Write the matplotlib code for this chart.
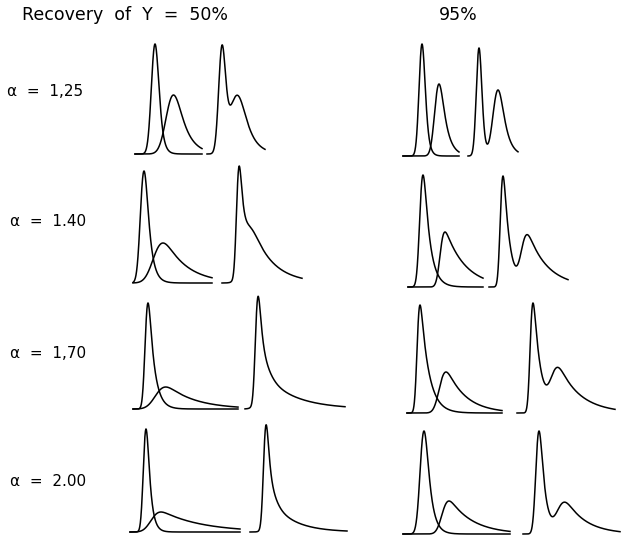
import math
import numpy as np
import matplotlib
matplotlib.use("Agg")
import matplotlib.pyplot as plt

# ---------------- data ----------------
row_labels = ["α  =  1,25", "α  =  1.40", "α  =  1,70", "α  =  2.00"]
col_titles = ["Recovery  of  Y  =  50%", "95%"]

# separate traces of the two components, indexed [row][column]
# (time units, detector units)
first_apex = [[20, 19], [11, 15], [15, 13], [16, 21]]
first_height = [[110, 112], [112, 112], [106, 108], [103, 103]]
first_sigma = [[3.2, 2.6], [3.0, 2.5], [2.2, 2.0], [2.2, 3.2]]
first_tau = [[3.0, 2.5], [4.5, 6.0], [5.5, 8.0], [3.5, 5.0]]
second_apex = [[38.5, 36], [30, 37], [32.7, 39], [31, 46]]
second_height = [[59, 72], [40, 55], [22, 41], [20, 33]]
second_sigma = [[6, 3.5], [7, 3], [7, 4.5], [6, 4.5]]
second_tau = [[10, 6], [22, 20], [28, 19], [40, 23]]
trace_end = [[67, 56], [79, 75], [105, 95], [110, 107]]

# combined (observed) trace, described by its two components
sum_first_apex = [[15, 11], [17, 14], [13, 16], [16, 16]]
sum_first_height = [[104, 108], [104, 111], [103, 110], [99, 103]]
sum_first_sigma = [[3, 2.4], [2, 2], [2, 2], [2, 2.5]]
sum_first_tau = [[2.5, 2], [4, 6], [5, 7], [4, 5]]
sum_second_apex = [[30.5, 30], [30, 38.5], [25, 41.5], [26, 42]]
sum_second_height = [[58, 66], [48, 50], [25, 42], [22, 31]]
sum_second_sigma = [[6, 4.2], [6, 4], [6, 5], [5, 5.5]]
sum_second_tau = [[9, 6], [20, 20], [30, 22], [22, 20]]
sum_end = [[58, 50], [80, 79], [100, 98], [97, 97]]

# ---------------- layout ----------------
W, H, DPI = 622, 538, 100
ind_left = [[135, 403], [133, 408], [133, 407], [130, 403]]
sum_left = [[207, 468], [222, 489], [245, 517], [250, 523]]
baseline = [[154, 156], [283, 287], [409, 413], [532, 534]]
AX_H = 125
label_pos = [(7, 92), (10, 222), (10, 353), (10, 482)]
title_pos = [(22, 15), (439, 15)]

_erfc = np.vectorize(math.erfc)


def emg(t, sigma, tau):
    arg = sigma ** 2 / (2 * tau ** 2) - t / tau
    arg = np.minimum(arg, 600)
    return 0.5 / tau * np.exp(arg) * _erfc((sigma / tau - t / sigma) / math.sqrt(2))


def peak(t, apex, height, sigma, tau):
    u = np.linspace(-8 * sigma, 8 * sigma + 4 * tau, 4000)
    fu = emg(u, sigma, tau)
    i = int(np.argmax(fu))
    return height * emg(t - apex + u[i], sigma, tau) / fu[i]


fig = plt.figure(figsize=(W / DPI, H / DPI), dpi=DPI)
fig.patch.set_facecolor("white")


def make_ax(left_px, width_units, base_px):
    ax = fig.add_axes([left_px / W, (H - base_px) / H, width_units / W, AX_H / H])
    ax.set_xlim(0, width_units)
    ax.set_ylim(0, AX_H)
    ax.axis("off")
    return ax


lw = 1.1
for r in range(4):
    for c in range(2):
        # separate components
        end = trace_end[r][c]
        ax = make_ax(ind_left[r][c], end, baseline[r][c])
        t = np.linspace(0, end, 800)
        y1 = peak(t, first_apex[r][c], first_height[r][c], first_sigma[r][c], first_tau[r][c])
        y2 = peak(t, second_apex[r][c], second_height[r][c], second_sigma[r][c], second_tau[r][c])
        ax.plot(t, y1, color="black", lw=lw, clip_on=False)
        ax.plot(t, y2, color="black", lw=lw, clip_on=False)
        # combined trace
        end = sum_end[r][c]
        ax = make_ax(sum_left[r][c], end, baseline[r][c])
        t = np.linspace(0, end, 800)
        ys = (peak(t, sum_first_apex[r][c], sum_first_height[r][c], sum_first_sigma[r][c], sum_first_tau[r][c])
              + peak(t, sum_second_apex[r][c], sum_second_height[r][c], sum_second_sigma[r][c], sum_second_tau[r][c]))
        ax.plot(t, ys, color="black", lw=lw, clip_on=False)

for (x, y), s in zip(title_pos, col_titles):
    fig.text(x / W, 1 - y / H, s, ha="left", va="center", fontsize=12.5, color="black")
for (x, y), s in zip(label_pos, row_labels):
    fig.text(x / W, 1 - y / H, s, ha="left", va="center", fontsize=11, color="black")

fig.savefig("out.png", dpi=DPI, facecolor="white")
